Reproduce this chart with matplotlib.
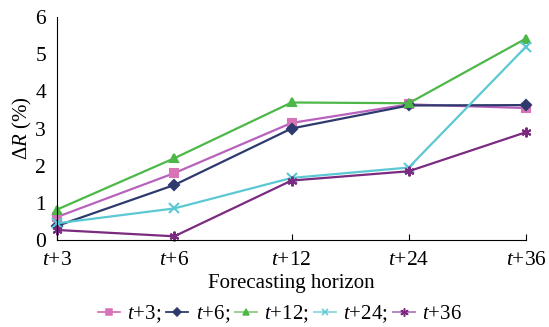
import matplotlib
matplotlib.use("Agg")
import matplotlib.pyplot as plt

plt.rcParams['font.family'] = 'Liberation Serif'
plt.rcParams['mathtext.fontset'] = 'custom'
plt.rcParams['mathtext.rm'] = 'Liberation Serif'
plt.rcParams['mathtext.it'] = 'Liberation Serif:italic'

horizons = ['$t$+3', '$t$+6', '$t$+12', '$t$+24', '$t$+36']
names = ['$t$+3;', '$t$+6;', '$t$+12;', '$t$+24;', '$t$+36']
t3 = [0.62, 1.80, 3.15, 3.65, 3.55]
t6 = [0.38, 1.48, 3.00, 3.62, 3.63]
t12 = [0.82, 2.20, 3.70, 3.68, 5.42]
t24 = [0.45, 0.85, 1.67, 1.95, 5.20]
t36 = [0.27, 0.10, 1.60, 1.85, 2.90]

series = [t3, t6, t12, t24, t36]
line_cols = ['#B862BE', '#2E3A6E', '#4DB848', '#5BC8D4', '#7B2A80']
mark_cols = ['#D873B8', '#2E3A6E', '#4DB848', '#5BC8D4', '#7B2A80']
leg_cols = ['#D873B8', '#2E3A6E', '#8CCF7E', '#8ED8E0', '#B07BBE']
markers = ['s', 'D', '^', 'x', (6, 2, 0)]
msizes = [6, 5.5, 6, 7, 7]
leg_sizes = [4.5, 4.5, 4.5, 5, 6]

fig = plt.figure(figsize=(5.49, 3.27), dpi=100)
ax = fig.add_axes([0.104, 0.266, 0.854, 0.682])

x = list(range(len(horizons)))
for s, lc, mc, m, ms, n in zip(series, line_cols, mark_cols, markers, msizes, names):
    ax.plot(x, s, color=lc, lw=1.6, marker=m, markersize=ms,
            markerfacecolor=mc, markeredgecolor=mc, markeredgewidth=1.5, label=n,
            clip_on=False)

ax.set_xlim(0, 4)
ax.set_ylim(0, 6)
ax.set_xticks(x)
ax.set_xticklabels(horizons)
ax.set_yticks(range(7))
ax.spines['top'].set_visible(False)
ax.spines['right'].set_visible(False)
ax.tick_params(axis='x', direction='in', length=4, labelsize=15.5, pad=8)
ax.tick_params(axis='y', length=0, labelsize=15.5, pad=8)
ax.set_xlabel('Forecasting horizon', fontsize=15, labelpad=3)
ax.set_ylabel(r'$\Delta R$ (%)', fontsize=15, labelpad=1)

leg = fig.legend(loc='center', bbox_to_anchor=(0.51, 0.04), ncol=5, frameon=False,
                 fontsize=15, handlelength=1.05, handletextpad=0.35, columnspacing=0.25)
for h, lc, mc, sz in zip(leg.legend_handles, leg_cols, mark_cols, leg_sizes):
    h.set_color(lc)
    h.set_markerfacecolor(mc)
    h.set_markeredgecolor(mc)
    h.set_markersize(sz)
    h.set_markeredgewidth(1.1)
    h.set_linewidth(1.3)

fig.savefig('out.png', dpi=100)
